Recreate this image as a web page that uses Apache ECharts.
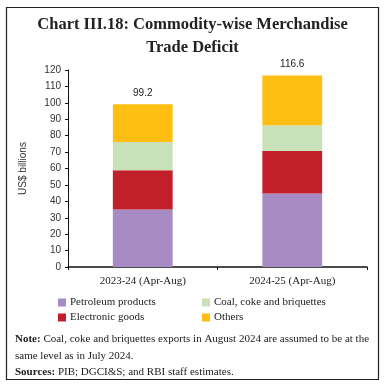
<!DOCTYPE html>
<html>
<head>
<meta charset="utf-8">
<script src="https://cdn.jsdelivr.net/npm/echarts@6/dist/echarts.min.js"></script>
<style>html,body{margin:0;padding:0;background:#fff}#c{width:385px;height:389px}</style>
</head>
<body>
<div id="c"></div>
<script>
var categories = ['2023-24 (Apr-Aug)', '2024-25 (Apr-Aug)'];
var petroleum = [35.0, 44.8];
var electronic = [24.0, 25.8];
var coal = [17.1, 15.7];
var others = [23.1, 30.3];
var totals = [99.2, 116.6];
var yTicks = [0, 120, 10];

var serif = '"Liberation Serif", "DejaVu Serif", serif';
var sans = '"Liberation Sans", Arial, sans-serif';
var colors = {p:'#A78CC4', e:'#C1202B', c:'#C9E1B9', o:'#FEBE12'};

var chart = echarts.init(document.getElementById('c'));
function leg(name, left, top) {
  return {data:[name], left:left, top:top, itemWidth:8, itemHeight:8, itemGap:0,
    icon:'rect', textStyle:{fontFamily:serif, fontSize:11, color:'#222', padding:[0,0,0,-1]}, padding:0, selectedMode:false};
}
chart.setOption({
  animation:false,
  title:{text:'Chart III.18: Commodity-wise Merchandise\nTrade Deficit', left:'center', top:8,
    textStyle:{fontFamily:serif, fontWeight:'bold', fontSize:16.5, lineHeight:23, color:'#222'}},
  legend:[
    leg('Petroleum products', 58, 297),
    leg('Coal, coke and briquettes', 202, 297),
    leg('Electronic goods', 58, 312),
    leg('Others', 202, 312)
  ],
  grid:{left:68, right:18, top:70, bottom:122},
  xAxis:{type:'category', data:categories,
    axisLine:{lineStyle:{color:'#111', width:1.5}},
    axisTick:{show:true, length:3, lineStyle:{color:'#111'}},
    axisLabel:{fontFamily:serif, fontSize:11, color:'#222', margin:9}},
  yAxis:{type:'value', min:yTicks[0], max:yTicks[1], interval:yTicks[2],
    name:'US$ billions', nameLocation:'middle', nameGap:40,
    nameTextStyle:{fontFamily:sans, fontSize:10, color:'#333'},
    splitLine:{show:false},
    axisLine:{show:true, lineStyle:{color:'#111', width:1}},
    axisTick:{show:true, length:3, lineStyle:{color:'#111'}},
    axisLabel:{fontFamily:sans, fontSize:10, color:'#333', margin:7}},
  series:[
    {name:'Petroleum products', type:'bar', stack:'a', data:petroleum, barWidth:'40%', itemStyle:{color:colors.p}},
    {name:'Electronic goods', type:'bar', stack:'a', data:electronic, itemStyle:{color:colors.e}},
    {name:'Coal, coke and briquettes', type:'bar', stack:'a', data:coal, itemStyle:{color:colors.c}},
    {name:'Others', type:'bar', stack:'a', data:others, itemStyle:{color:colors.o},
      label:{show:true, position:'top', distance:6, fontFamily:sans, fontSize:10, color:'#222',
        formatter:function(p){return totals[p.dataIndex].toFixed(1);}}}
  ],
  graphic:[
    {type:'rect', shape:{x:6.5, y:7.5, width:372, height:372}, style:{fill:'none', stroke:'#222', lineWidth:1.2}, silent:true},
    {type:'text', left:15, top:331, style:{
      text:'{b|Note:} Coal, coke and briquettes exports in August 2024 are assumed to be at the\nsame level as in July 2024.\n{b|Sources:} PIB; DGCI&S; and RBI staff estimates.',
      font:'11px ' + serif, fill:'#222', lineHeight:16.5,
      rich:{b:{fontWeight:'bold', fontFamily:serif, fontSize:11, fill:'#222'}}}}
  ]
});
</script>
</body>
</html>
